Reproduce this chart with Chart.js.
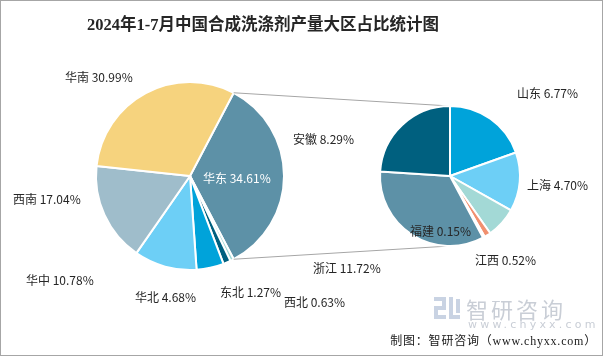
<!DOCTYPE html>
<html>
<head>
<meta charset="utf-8">
<script src="https://cdn.jsdelivr.net/npm/chart.js@4.4.1/dist/chart.umd.min.js"></script>
<style>
html,body{margin:0;padding:0;background:#fff;}
#wrap{position:relative;width:603px;height:356px;overflow:hidden;background:#fff;}
#wrap canvas{position:absolute;left:0;top:0;}
#frame{position:absolute;left:0;top:0;width:603px;height:356px;box-sizing:border-box;border:1px solid #A6A6A6;pointer-events:none;}
#title{position:absolute;left:87px;top:11px;text-align:left;font:bold 16.5px "Liberation Serif","Noto Sans CJK SC",serif;color:#262626;white-space:nowrap;}
#wm1{position:absolute;left:466px;top:292px;font:22px "Noto Sans CJK SC",sans-serif;color:#C9CED6;letter-spacing:3px;white-space:nowrap;}
#wm2{position:absolute;left:468px;top:318px;font:11px "DejaVu Sans",sans-serif;color:#C9CED6;letter-spacing:3.2px;white-space:nowrap;}
#logo{position:absolute;left:434px;top:297px;width:26px;height:22px;}
#logo div{position:absolute;background:#C9D3E3;}
#src{position:absolute;right:6px;top:331px;font:12px "Liberation Serif","Noto Sans CJK SC",serif;color:#1a1a1a;letter-spacing:0.8px;white-space:nowrap;}
</style>
</head>
<body>
<div id="wrap">
  <canvas id="left" width="603" height="356"></canvas>
  <canvas id="right" width="603" height="356"></canvas>
  <div id="title">2024年1-7月中国合成洗涤剂产量大区占比统计图</div>
  <div id="logo"><div style="left:0;top:0;width:12px;height:4px"></div><div style="left:8px;top:0;width:4px;height:12px"></div><div style="left:0;top:9px;width:12px;height:4px"></div><div style="left:0;top:9px;width:4px;height:13px"></div><div style="left:0;top:18px;width:12px;height:4px"></div><div style="left:15px;top:0;width:4px;height:22px"></div><div style="left:15px;top:18px;width:11px;height:4px"></div><div style="left:22px;top:2px;width:4px;height:14px"></div></div>
  <div id="wm1">智研咨询</div>
  <div id="wm2">www.chyxx.com</div>
  <div id="src">制图：智研咨询（www.chyxx.com）</div>
  <div id="frame"></div>
</div>
<script>
// ---- data ----
const regionLabels = ['华东', '西北', '东北', '华北', '华中', '西南', '华南'];
const regionValues = [34.61, 0.63, 1.27, 4.68, 10.78, 17.04, 30.99];
const provinceLabels = ['山东', '上海', '江苏', '江西', '福建', '浙江', '安徽'];
const provinceValues = [6.77, 4.70, 2.46, 0.52, 0.15, 11.72, 8.29];
const provinceShowLabel = [true, true, false, true, true, true, true];

// ---- styling / layout ----
const regionColors = ['#5D91A7', '#A3D9D6', '#00607F', '#00A3DA', '#6DCFF6', '#9FBDCB', '#F6D37E'];
const provinceColors = ['#00A3DA', '#6DCFF6', '#A3D9D6', '#F1906F', '#9FBDCB', '#5D91A7', '#00607F'];
const regionLabelPos = [[203, 178], [284, 302], [220, 292], [135, 297], [26, 280], [13, 199], [65, 77]];
const provinceLabelPos = [[517, 93], [527, 185], null, [475, 260], [410, 231], [313, 268], [293, 139]];
const labelFont = '12px "Noto Sans CJK SC", sans-serif';

function labelPlugin(id, labels, values, pos, show, colorFn) {
  return {
    id: id,
    afterDatasetsDraw(chart) {
      const ctx = chart.ctx;
      ctx.save();
      ctx.font = labelFont;
      ctx.textAlign = 'left';
      ctx.textBaseline = 'middle';
      labels.forEach((name, i) => {
        if (show && !show[i]) return;
        if (!pos[i]) return;
        ctx.fillStyle = colorFn(i);
        ctx.fillText(name + ' ' + values[i].toFixed(2) + '%', pos[i][0], pos[i][1]);
      });
      ctx.restore();
    }
  };
}

const commonOpts = {
  responsive: false,
  animation: false,
  events: [],
  plugins: { legend: { display: false }, tooltip: { enabled: false }, title: { display: false } }
};

const leftChart = new Chart(document.getElementById('left'), {
  type: 'pie',
  data: {
    labels: regionLabels,
    datasets: [{
      data: regionValues,
      backgroundColor: regionColors,
      borderColor: '#FFFFFF',
      borderWidth: 2,
      hoverOffset: 0
    }]
  },
  options: Object.assign({}, commonOpts, {
    rotation: 90 - regionValues[0] / regionValues.reduce((a, b) => a + b, 0) * 180,
    radius: 94,
    layout: { padding: { left: 90, right: 313, top: 76, bottom: 80 } }
  }),
  plugins: [labelPlugin('leftLabels', regionLabels, regionValues, regionLabelPos, null,
    i => i === 0 ? '#FFFFFF' : '#262626')]
});

const connectorPlugin = {
  id: 'connector',
  beforeDatasetsDraw(chart) {
    const la = leftChart.getDatasetMeta(0).data[0];
    const lp = la.getProps(['x', 'y', 'startAngle', 'endAngle', 'outerRadius'], true);
    const ra = chart.getDatasetMeta(0).data[0];
    const rp = ra.getProps(['x', 'y', 'outerRadius'], true);
    const ctx = chart.ctx;
    ctx.save();
    ctx.strokeStyle = '#A6A6A6';
    ctx.lineWidth = 1;
    ctx.beginPath();
    ctx.moveTo(lp.x + lp.outerRadius * Math.cos(lp.startAngle), lp.y + lp.outerRadius * Math.sin(lp.startAngle));
    ctx.lineTo(rp.x, rp.y - rp.outerRadius);
    ctx.moveTo(lp.x + lp.outerRadius * Math.cos(lp.endAngle), lp.y + lp.outerRadius * Math.sin(lp.endAngle));
    ctx.lineTo(rp.x, rp.y + rp.outerRadius);
    ctx.stroke();
    ctx.restore();
  }
};

const rightChart = new Chart(document.getElementById('right'), {
  type: 'pie',
  data: {
    labels: provinceLabels,
    datasets: [{
      data: provinceValues,
      backgroundColor: provinceColors,
      borderColor: '#FFFFFF',
      borderWidth: 2,
      hoverOffset: 0
    }]
  },
  options: Object.assign({}, commonOpts, {
    rotation: 0,
    radius: 70,
    layout: { padding: { left: 370, right: 73, top: 96, bottom: 100 } }
  }),
  plugins: [connectorPlugin, labelPlugin('rightLabels', provinceLabels, provinceValues, provinceLabelPos, provinceShowLabel,
    i => '#262626')]
});
</script>
</body>
</html>
